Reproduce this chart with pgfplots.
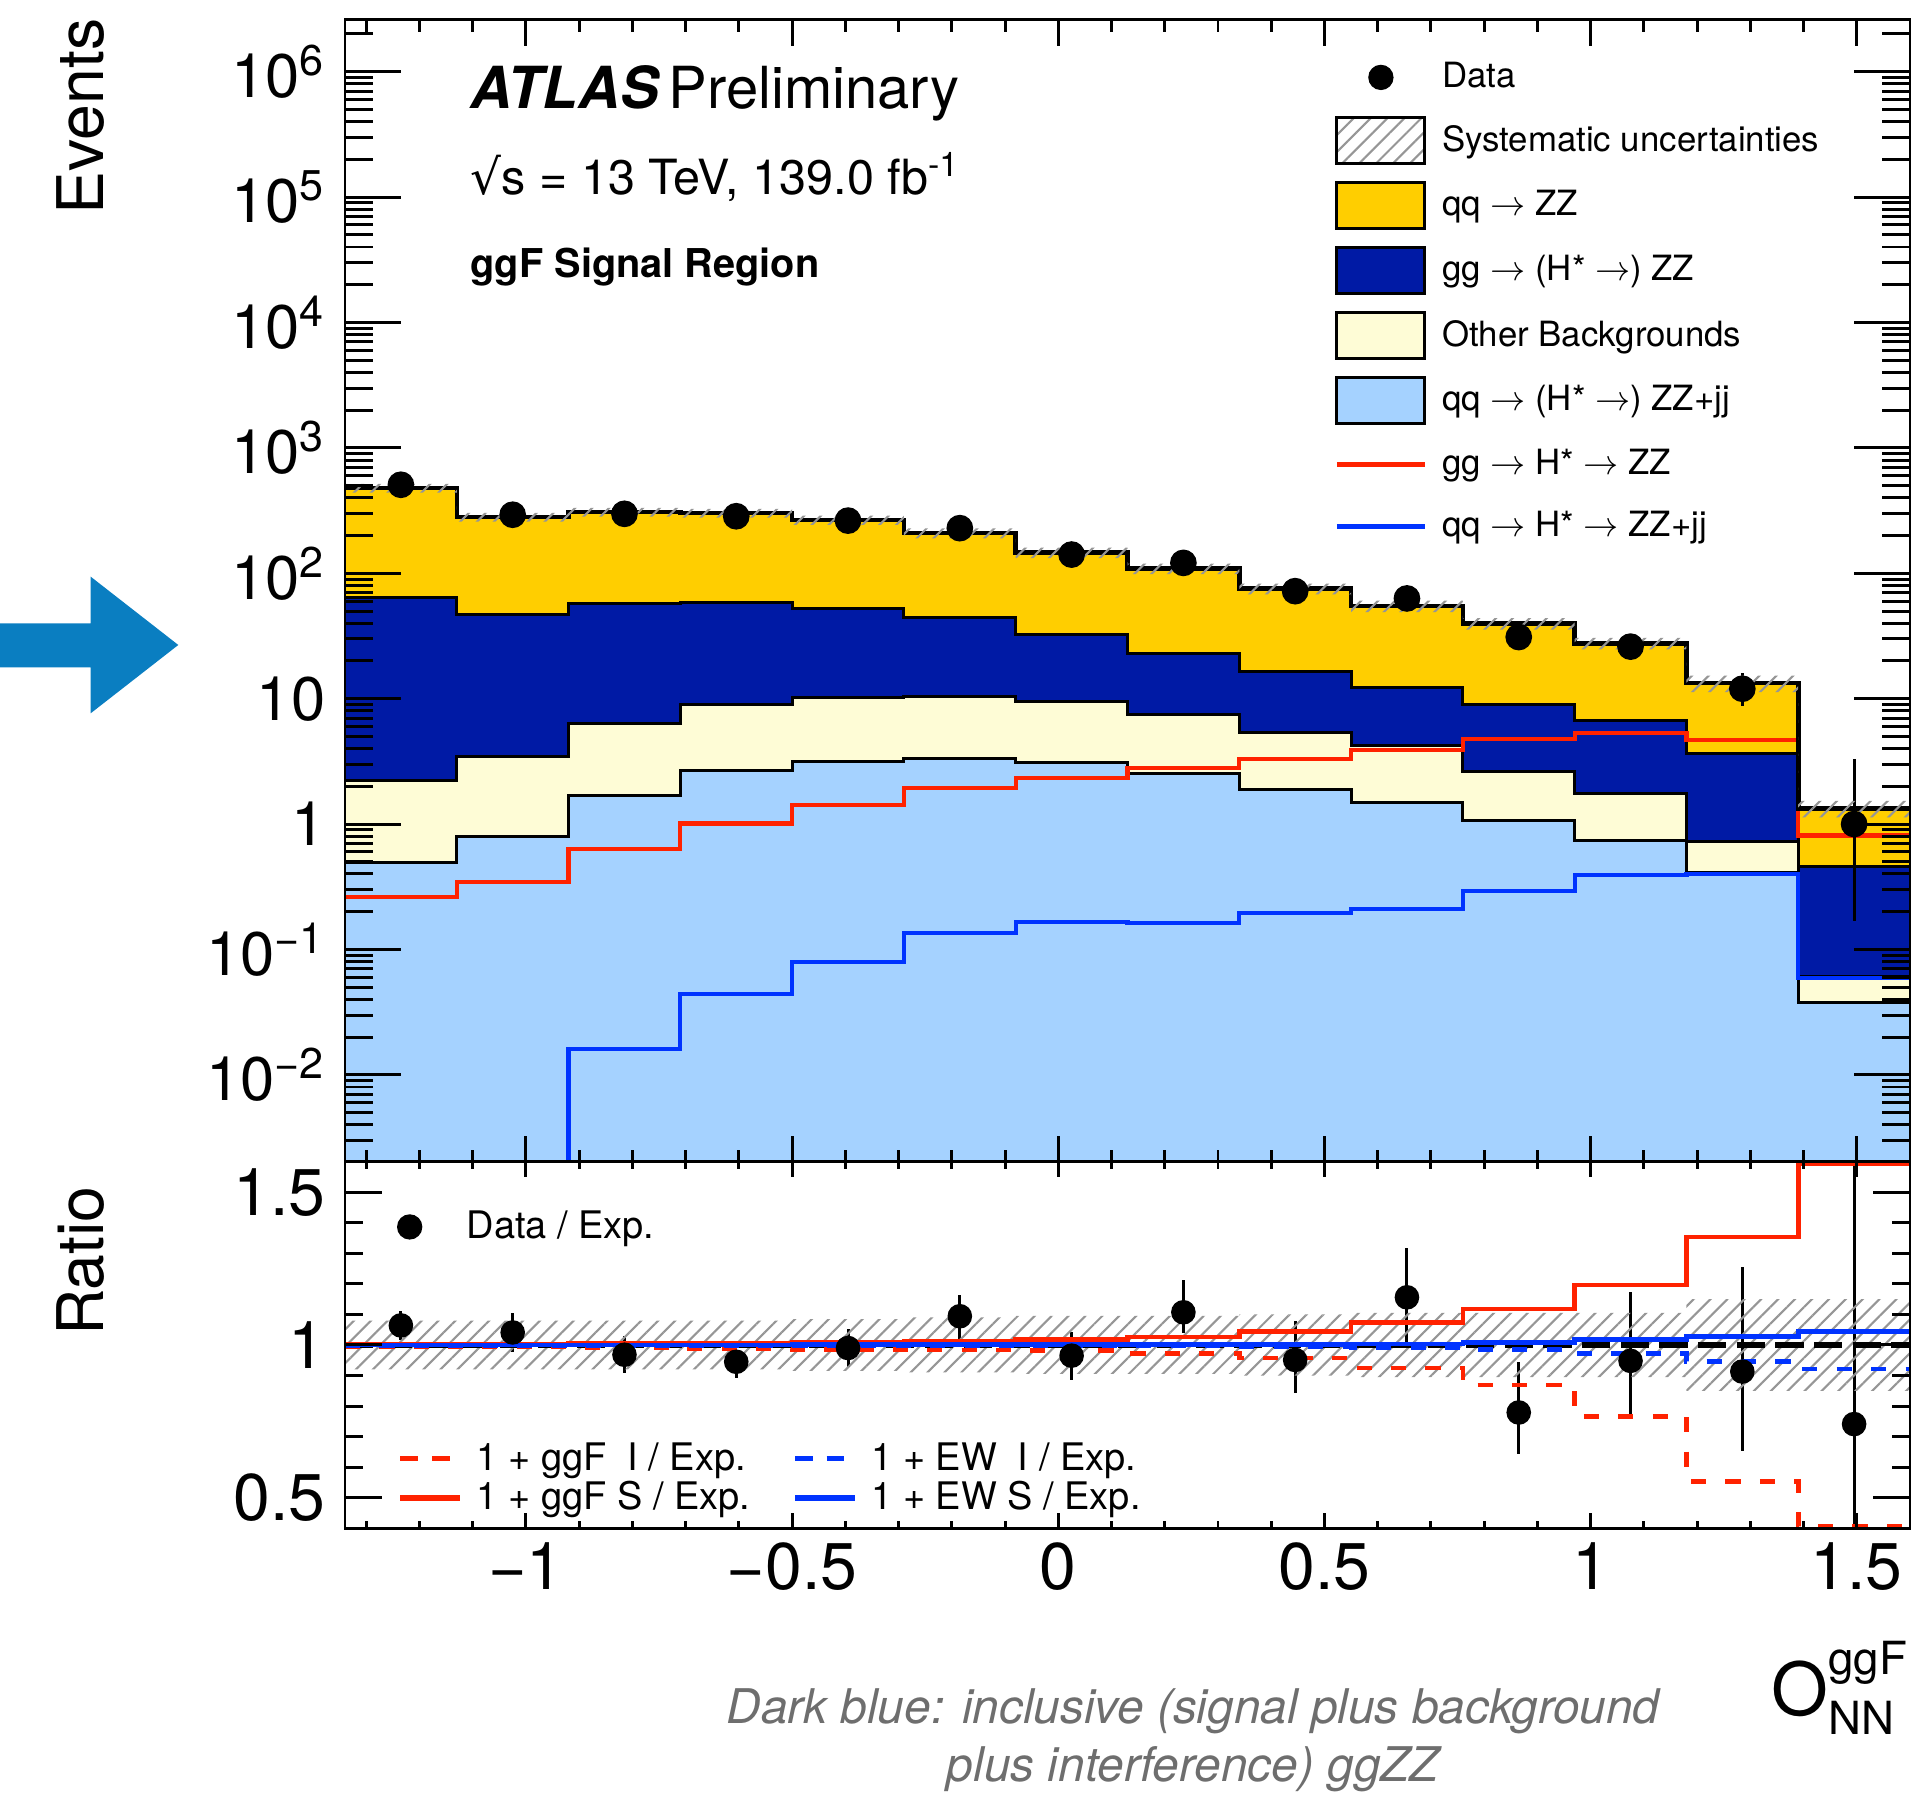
\documentclass[border=0pt]{standalone}
\usepackage{fontspec}
\setmainfont{TeX Gyre Heros}
\newfontfamily\dejavu{DejaVu Sans}
\usepackage{pgfplots}
\pgfplotsset{compat=1.18}
\usetikzlibrary{patterns.meta}
\definecolor{cyel}{RGB}{255,206,0}
\definecolor{cdblue}{RGB}{0,26,165}
\definecolor{clyel}{RGB}{254,252,214}
\definecolor{clblue}{RGB}{165,210,255}
\definecolor{cred}{RGB}{255,34,0}
\definecolor{cblue}{RGB}{0,51,255}
\definecolor{carrow}{RGB}{10,126,193}
\definecolor{chatch}{RGB}{150,150,150}
\definecolor{cgray}{RGB}{110,110,110}
\tikzset{hatch/.style={pattern={Lines[angle=45,distance=3.4pt,line width=0.6pt]},pattern color=chatch}}
\pgfplotsset{
  mybase/.style={scale only axis, width=15.65cm, xmin=-1.34, xmax=1.6, tick align=inside,
    anchor=south west, axis line style={line width=0.85pt},
    tick style={line width=0.85pt, black}},
}
\begin{document}
\begin{tikzpicture}
\useasboundingbox (0,0) rectangle (19.27,17.93);
% ================= MAIN PANEL =================
\begin{axis}[mybase, at={(3.45cm,6.313cm)}, height=11.42cm,
  ymode=log, ymin=2.03e-3, ymax=2.6e6, log origin=infty,
  xtick=\empty,
  ytick={1e-2,1e-1,1,10,100,1000,1e4,1e5,1e6},
  yticklabels={10\textsuperscript{−2},10\textsuperscript{−1},1,10,10\textsuperscript{2},10\textsuperscript{3},10\textsuperscript{4},10\textsuperscript{5},10\textsuperscript{6}},
  minor ytick={3e-3,4e-3,5e-3,6e-3,7e-3,8e-3,9e-3,2e-2,3e-2,4e-2,5e-2,6e-2,7e-2,8e-2,9e-2,0.2,0.3,0.4,0.5,0.6,0.7,0.8,0.9,2,3,4,5,6,7,8,9,20,30,40,50,60,70,80,90,200,300,400,500,600,700,800,900,2000,3000,4000,5000,6000,7000,8000,9000,2e4,3e4,4e4,5e4,6e4,7e4,8e4,9e4,2e5,3e5,4e5,5e5,6e5,7e5,8e5,9e5,2e6},
  major tick length=0.56cm, minor tick length=0.28cm,
  yticklabel style={font=\fontsize{17.5}{20}\selectfont, anchor=east, inner sep=0pt, xshift=-0.19cm},
  axis on top,
  legend cell align=left,
  legend style={at={(0.6319,0.9702)}, anchor=north west, draw=none, fill=none, inner sep=0pt,
    row sep=0.16cm, column sep=0.15cm, font=\fontsize{9.9}{11}\selectfont, nodes={inner sep=0pt}},
]
\addlegendimage{legend image code/.code={\path[draw=none,fill=none] (0cm,-0.23cm) rectangle (0.88cm,0.23cm); \fill[black] (0.44cm,0cm) circle (3.4pt);}}
\addlegendentry{Data}
\addlegendimage{legend image code/.code={\draw[hatch, draw=black, line width=0.85pt] (0cm,-0.23cm) rectangle (0.88cm,0.23cm);}}
\addlegendentry{Systematic uncertainties}
\addlegendimage{legend image code/.code={\draw[fill=cyel, draw=black, line width=0.85pt] (0cm,-0.23cm) rectangle (0.88cm,0.23cm);}}
\addlegendentry{qq $\rightarrow$ ZZ}
\addlegendimage{legend image code/.code={\draw[fill=cdblue, draw=black, line width=0.85pt] (0cm,-0.23cm) rectangle (0.88cm,0.23cm);}}
\addlegendentry{gg $\rightarrow$ (H* $\rightarrow$) ZZ}
\addlegendimage{legend image code/.code={\draw[fill=clyel, draw=black, line width=0.85pt] (0cm,-0.23cm) rectangle (0.88cm,0.23cm);}}
\addlegendentry{Other Backgrounds}
\addlegendimage{legend image code/.code={\draw[fill=clblue, draw=black, line width=0.85pt] (0cm,-0.23cm) rectangle (0.88cm,0.23cm);}}
\addlegendentry{qq $\rightarrow$ (H* $\rightarrow$) ZZ+jj}
\addlegendimage{legend image code/.code={\path[draw=none,fill=none] (0cm,-0.23cm) rectangle (0.88cm,0.23cm); \draw[cred, line width=1.3pt] (0cm,0cm) -- (0.88cm,0cm);}}
\addlegendentry{gg $\rightarrow$ H* $\rightarrow$ ZZ}
\addlegendimage{legend image code/.code={\path[draw=none,fill=none] (0cm,-0.23cm) rectangle (0.88cm,0.23cm); \draw[cblue, line width=1.3pt] (0cm,0cm) -- (0.88cm,0cm);}}
\addlegendentry{qq $\rightarrow$ H* $\rightarrow$ ZZ+jj}
% stacked fills (cumulative tops)
\addplot[forget plot, draw=none, fill=cyel, const plot] coordinates {(-1.34,477)(-1.13,281)(-0.92,308)(-0.71,302)(-0.50,266)(-0.29,209)(-0.08,146)(0.13,109)(0.34,75.3)(0.55,54.7)(0.76,39.7)(0.97,27.6)(1.18,13.3)(1.39,1.33)(1.60,1.33)} \closedcycle;
\addplot[forget plot, draw=none, fill=cdblue, const plot] coordinates {(-1.34,64.5)(-1.13,46.9)(-0.92,57.3)(-0.71,58.4)(-0.50,52.3)(-0.29,44.4)(-0.08,32.5)(0.13,23.0)(0.34,16.5)(0.55,12.3)(0.76,9.04)(0.97,6.69)(1.18,3.63)(1.39,0.460)(1.60,0.460)} \closedcycle;
\addplot[forget plot, draw=none, fill=clyel, const plot] coordinates {(-1.34,2.21)(-1.13,3.43)(-0.92,6.39)(-0.71,9.04)(-0.50,10.3)(-0.29,10.5)(-0.08,9.55)(0.13,7.53)(0.34,5.42)(0.55,4.27)(0.76,2.61)(0.97,1.75)(1.18,0.727)(1.39,0.0605)(1.60,0.0605)} \closedcycle;
\addplot[forget plot, draw=none, fill=clblue, const plot] coordinates {(-1.34,0.49)(-1.13,0.796)(-0.92,1.70)(-0.71,2.66)(-0.50,3.13)(-0.29,3.31)(-0.08,3.08)(0.13,2.52)(0.34,1.88)(0.55,1.48)(0.76,1.07)(0.97,0.740)(1.18,0.412)(1.39,0.0376)(1.60,0.0376)} \closedcycle;
% outlines
\addplot[forget plot, black, line width=0.85pt, const plot] coordinates {(-1.34,64.5)(-1.13,46.9)(-0.92,57.3)(-0.71,58.4)(-0.50,52.3)(-0.29,44.4)(-0.08,32.5)(0.13,23.0)(0.34,16.5)(0.55,12.3)(0.76,9.04)(0.97,6.69)(1.18,3.63)(1.39,0.460)(1.60,0.460)};
\addplot[forget plot, black, line width=0.85pt, const plot] coordinates {(-1.34,2.21)(-1.13,3.43)(-0.92,6.39)(-0.71,9.04)(-0.50,10.3)(-0.29,10.5)(-0.08,9.55)(0.13,7.53)(0.34,5.42)(0.55,4.27)(0.76,2.61)(0.97,1.75)(1.18,0.727)(1.39,0.0605)(1.60,0.0605)};
\addplot[forget plot, black, line width=0.85pt, const plot] coordinates {(-1.34,0.49)(-1.13,0.796)(-0.92,1.70)(-0.71,2.66)(-0.50,3.13)(-0.29,3.31)(-0.08,3.08)(0.13,2.52)(0.34,1.88)(0.55,1.48)(0.76,1.07)(0.97,0.740)(1.18,0.412)(1.39,0.0376)(1.60,0.0376)};
% signal lines
\addplot[forget plot, cred, line width=1.2pt, const plot] coordinates {(-1.34,0.261)(-1.13,0.343)(-0.92,0.634)(-0.71,1.01)(-0.50,1.42)(-0.29,1.95)(-0.08,2.34)(0.13,2.81)(0.34,3.31)(0.55,3.90)(0.76,4.77)(0.97,5.32)(1.18,4.69)(1.39,0.811)(1.60,0.811)};
\addplot[forget plot, cblue, line width=1.2pt, const plot] coordinates {(-1.34,1e-4)(-0.92,0.0161)(-0.71,0.044)(-0.50,0.0796)(-0.29,0.135)(-0.08,0.165)(0.13,0.162)(0.34,0.195)(0.55,0.209)(0.76,0.291)(0.97,0.394)(1.18,0.401)(1.39,0.0589)(1.60,0.0589)};
% data
\addplot[forget plot, only marks, mark=*, mark size=3.6pt, black,
  error bars/.cd, y dir=both, y explicit, error bar style={line width=0.85pt, black}, error mark=none]
  coordinates {
  (-1.235,508) +- (0,22.5)
  (-1.025,293) +- (0,17.1)
  (-0.815,298) +- (0,17.3)
  (-0.605,285) +- (0,16.9)
  (-0.395,263) +- (0,16.2)
  (-0.185,229) +- (0,15.1)
  (0.025,141) +- (0,11.9)
  (0.235,121) +- (0,11.0)
  (0.445,72) +- (0,8.5)
  (0.655,63) +- (0,7.9)
  (0.865,31) +- (0,5.6)
  (1.075,26) +- (0,5.1)
  (1.285,12) += (0,4.1) -= (0,3.3)
  (1.495,1) += (0,2.3) -= (0,0.83)
  };
% total outline
\addplot[forget plot, black, line width=1.3pt, const plot] coordinates {(-1.34,477)(-1.13,281)(-0.92,308)(-0.71,302)(-0.50,266)(-0.29,209)(-0.08,146)(0.13,109)(0.34,75.3)(0.55,54.7)(0.76,39.7)(0.97,27.6)(1.18,13.3)(1.39,1.33)(1.60,1.33)};
% systematic band
\addplot[forget plot, hatch, draw=none] coordinates {(-1.34,515.2)(-1.13,515.2)(-1.13,303.5)(-0.92,303.5)(-0.92,332.6)(-0.71,332.6)(-0.71,326.2)(-0.50,326.2)(-0.50,288.6)(-0.29,288.6)(-0.29,227.8)(-0.08,227.8)(-0.08,159.9)(0.13,159.9)(0.13,119.4)(0.34,119.4)(0.34,82.8)(0.55,82.8)(0.55,60.4)(0.76,60.4)(0.76,43.9)(0.97,43.9)(0.97,30.5)(1.18,30.5)(1.18,15.3)(1.39,15.3)(1.39,1.53)(1.60,1.53)
 (1.60,1.13)(1.39,1.13)(1.39,11.3)(1.18,11.3)(1.18,24.7)(0.97,24.7)(0.97,35.5)(0.76,35.5)(0.76,49.0)(0.55,49.0)(0.55,67.8)(0.34,67.8)(0.34,98.6)(0.13,98.6)(0.13,132.1)(-0.08,132.1)(-0.08,190.2)(-0.29,190.2)(-0.29,243.4)(-0.50,243.4)(-0.50,277.8)(-0.71,277.8)(-0.71,283.4)(-0.92,283.4)(-0.92,258.5)(-1.13,258.5)(-1.13,438.8)(-1.34,438.8)} -- cycle;
\end{axis}
% main panel x ticks
\begin{axis}[mybase, at={(3.45cm,6.313cm)}, height=11.42cm, ymin=0, ymax=1, ytick=\empty,
  xtick={-1,-0.5,0,0.5,1,1.5}, minor xtick={-1.3,-1.2,...,1.6}, xticklabels=\empty,
  major tick length=0.26cm, minor tick length=0.12cm]
\addplot[draw=none, forget plot] coordinates {(0,0.5)};
\end{axis}
% ================= RATIO PANEL =================
\begin{axis}[mybase, at={(3.45cm,2.647cm)}, height=3.666cm, ymin=0.4, ymax=1.6,
  xtick=\empty, ytick={0.5,1,1.5}, yticklabels={0.5,1,1.5},
  minor ytick={0.6,0.7,0.8,0.9,1.1,1.2,1.3,1.4},
  major tick length=0.37cm, minor tick length=0.18cm,
  yticklabel style={font=\fontsize{18.8}{20}\selectfont, anchor=east, inner sep=0pt, xshift=-0.19cm},
  axis on top,
  legend columns=2, legend cell align=left,
  legend style={at={(0.0332,0.034)}, anchor=south west, draw=none, fill=none, inner sep=0pt,
    row sep=0.062cm, font=\fontsize{10.8}{12}\selectfont, nodes={inner sep=0pt},
    /tikz/every odd column/.append style={column sep=0.137cm},
    /tikz/every even column/.append style={column sep=0.42cm}},
]
\addlegendimage{legend image code/.code={\path[draw=none,fill=none] (0cm,-0.16cm) rectangle (0.6cm,0.16cm); \draw[cred, line width=1.4pt, dash pattern=on 5pt off 4pt] (0cm,0cm) -- (0.53cm,0cm);}}
\addlegendentry{1 + ggF\hspace{0.55em}I / Exp.}
\addlegendimage{legend image code/.code={\path[draw=none,fill=none] (0cm,-0.16cm) rectangle (0.6cm,0.16cm); \draw[cblue, line width=1.4pt, dash pattern=on 5pt off 4pt] (0cm,0cm) -- (0.6cm,0cm);}}
\addlegendentry{1 + EW\hspace{0.55em}I / Exp.}
\addlegendimage{legend image code/.code={\path[draw=none,fill=none] (0cm,-0.16cm) rectangle (0.6cm,0.16cm); \draw[cred, line width=1.6pt] (0cm,0cm) -- (0.6cm,0cm);}}
\addlegendentry{1 + ggF S / Exp.}
\addlegendimage{legend image code/.code={\path[draw=none,fill=none] (0cm,-0.16cm) rectangle (0.6cm,0.16cm); \draw[cblue, line width=1.6pt] (0cm,0cm) -- (0.6cm,0cm);}}
\addlegendentry{1 + EW S / Exp.}
% data / exp
\addplot[forget plot, only marks, mark=*, mark size=3.3pt, black,
  error bars/.cd, y dir=both, y explicit, error bar style={line width=0.85pt, black}, error mark=none]
  coordinates {
  (-1.235,1.064) += (0,0.046) -= (0,0.047)
  (-1.025,1.041) +- (0,0.063)
  (-0.815,0.968) +- (0,0.060)
  (-0.605,0.945) += (0,0.039) -= (0,0.054)
  (-0.395,0.990) +- (0,0.063)
  (-0.185,1.094) += (0,0.071) -= (0,0.077)
  (0.025,0.965) +- (0,0.079)
  (0.235,1.107) += (0,0.107) -= (0,0.068)
  (0.445,0.951) += (0,0.126) -= (0,0.109)
  (0.655,1.156) += (0,0.162) -= (0,0.150)
  (0.865,0.779) += (0,0.165) -= (0,0.136)
  (1.075,0.948) += (0,0.224) -= (0,0.182)
  (1.285,0.913) += (0,0.342) -= (0,0.259)
  (1.495,0.741) += (0,1.2) -= (0,0.74)
  };
% systematic band
\addplot[forget plot, hatch, draw=none] coordinates {(-1.34,1.08)(-0.50,1.08)(-0.50,1.085)(-0.29,1.085)(-0.29,1.09)(-0.08,1.09)(-0.08,1.095)(0.34,1.095)(0.34,1.10)(0.55,1.10)(0.55,1.105)(1.18,1.105)(1.18,1.15)(1.60,1.15)
 (1.60,0.85)(1.18,0.85)(1.18,0.895)(0.55,0.895)(0.55,0.90)(0.34,0.90)(0.34,0.905)(-0.08,0.905)(-0.08,0.91)(-0.29,0.91)(-0.29,0.915)(-0.50,0.915)(-0.50,0.92)(-1.34,0.92)} -- cycle;
\addplot[forget plot, black, line width=1.5pt, dash pattern=on 8pt off 3pt] coordinates {(-1.34,1)(1.60,1)};
% ratio lines
\addplot[forget plot, cred, line width=1.3pt, dash pattern=on 4.3pt off 5.5pt, const plot] coordinates {(-1.34,0.995)(-1.13,0.993)(-0.92,0.991)(-0.71,0.988)(-0.50,0.986)(-0.29,0.984)(-0.08,0.981)(0.13,0.973)(0.34,0.957)(0.55,0.924)(0.76,0.869)(0.97,0.766)(1.18,0.553)(1.39,0.405)(1.60,0.405)};
\addplot[forget plot, cred, line width=1.3pt, const plot] coordinates {(-1.34,1.003)(-1.13,1.003)(-0.92,1.004)(-0.71,1.006)(-0.50,1.008)(-0.29,1.012)(-0.08,1.017)(0.13,1.026)(0.34,1.044)(0.55,1.074)(0.76,1.118)(0.97,1.197)(1.18,1.354)(1.39,1.594)(1.60,1.594)};
\addplot[forget plot, cblue, line width=1.3pt, dash pattern=on 4.3pt off 5.5pt, const plot] coordinates {(-1.34,0.999)(-1.13,0.999)(-0.92,0.999)(-0.71,0.998)(-0.50,0.998)(-0.29,0.998)(-0.08,0.997)(0.13,0.996)(0.34,0.995)(0.55,0.992)(0.76,0.986)(0.97,0.973)(1.18,0.946)(1.39,0.921)(1.60,0.921)};
\addplot[forget plot, cblue, line width=1.3pt, const plot] coordinates {(-1.34,1.0)(-1.13,1.0)(-0.92,1.0)(-0.71,1.0)(-0.50,1.001)(-0.29,1.001)(-0.08,1.001)(0.13,1.002)(0.34,1.002)(0.55,1.003)(0.76,1.009)(0.97,1.017)(1.18,1.028)(1.39,1.044)(1.60,1.044)};
\end{axis}
% ratio x ticks, labels, Data/Exp legend
\begin{axis}[mybase, at={(3.45cm,2.647cm)}, height=3.666cm, ymin=0, ymax=1, ytick=\empty,
  xtick={-1,-0.5,0,0.5,1,1.5}, xticklabels={−1,−0.5,0,0.5,1,1.5}, minor xtick={-1.3,-1.2,...,1.6},
  major tick length=0.15cm, minor tick length=0.075cm,
  xticklabel style={font=\fontsize{18.8}{20}\selectfont, anchor=north, inner sep=0pt, yshift=-0.14cm},
  legend style={at={(0.0281,0.822)}, anchor=west, draw=none, fill=none, inner sep=0pt,
    column sep=0.37cm, font=\fontsize{10.8}{12}\selectfont, nodes={inner sep=0pt}},
]
\addlegendimage{legend image code/.code={\path[draw=none,fill=none] (0cm,-0.15cm) rectangle (0.4cm,0.15cm); \fill[black] (0.2cm,0cm) circle (3.4pt);}}
\addlegendentry{Data / Exp.}
\addplot[draw=none, forget plot] coordinates {(0,0.5)};
\end{axis}
% ================= TEXT =================
\node[rotate=90, anchor=east, inner sep=0pt] at (0.81,17.75) {\fontsize{18.3}{20}\selectfont Events};
\node[rotate=90, anchor=east, inner sep=0pt] at (0.81,6.07) {\fontsize{18.3}{20}\selectfont Ratio};
\node[anchor=base west, inner sep=0pt] at (4.70,16.847) {\fontsize{16.5}{18}\selectfont\bfseries\itshape ATLAS\hspace{0.1cm}\mdseries\upshape Preliminary};
\node[anchor=base west, inner sep=0pt] at (4.70,15.98) {\fontsize{13.8}{15}\selectfont{\dejavu √}s = 13 TeV, 139.0 fb\textsuperscript{-1}};
\node[anchor=base west, inner sep=0pt] at (4.70,15.15) {\fontsize{11.3}{13}\selectfont\bfseries ggF Signal Region};
\node[anchor=base east, inner sep=0pt] at (19.08,0.77) {\fontsize{20.8}{24}\selectfont O\rlap{\raisebox{-0.19cm}{\fontsize{13}{15}\selectfont NN}}\raisebox{0.41cm}{\fontsize{13}{15}\selectfont ggF}};
\node[anchor=base, inner sep=0pt, text=cgray] at (11.93,0.69) {\fontsize{13.6}{15}\selectfont\itshape Dark blue: inclusive (signal plus background};
\node[anchor=base, inner sep=0pt, text=cgray] at (11.93,0.11) {\fontsize{13.6}{15}\selectfont\itshape plus interference) ggZZ};
% arrow
\fill[carrow] (0,11.697)--(0.907,11.697)--(0.907,12.163)--(1.783,11.48)--(0.907,10.797)--(0.907,11.257)--(0,11.257)--cycle;
\end{tikzpicture}
\end{document}
